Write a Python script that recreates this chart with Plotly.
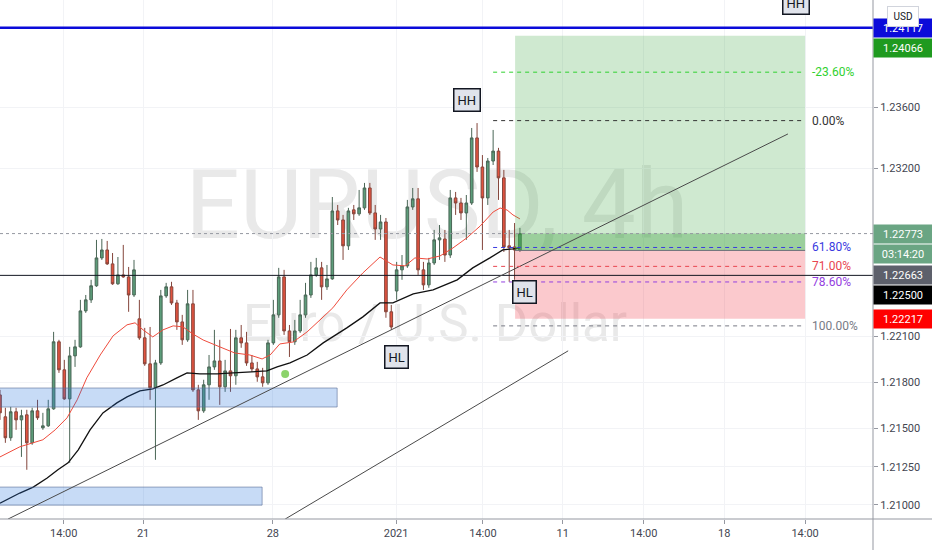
import plotly.graph_objects as go

# ---------------- data (EURUSD 4h) ----------------
open_ = [1.21719, 1.21576, 1.21439, 1.21609, 1.21556, 1.21589, 1.21406, 1.21615, 1.21504, 1.21517,
         1.21628, 1.22066, 1.21883, 1.21693, 1.21974, 1.22033, 1.22268, 1.22340, 1.22432, 1.22614,
         1.22666, 1.22575, 1.22445, 1.22503, 1.22490, 1.22372, 1.22216, 1.22092, 1.21922, 1.21766,
         1.21928, 1.22366, 1.22425, 1.22320, 1.22196, 1.22079, 1.22314, 1.21752, 1.21615, 1.21785,
         1.21902, 1.21941, 1.21772, 1.21876, 1.21844, 1.22092, 1.22059, 1.21928, 1.21889, 1.21837,
         1.21798, 1.22059, 1.22242, 1.22490, 1.22137, 1.22066, 1.22137, 1.22242, 1.22372, 1.22503,
         1.22549, 1.22425, 1.22477, 1.22921, 1.22862, 1.22693, 1.22928, 1.22902, 1.22941, 1.23071,
         1.22908, 1.22803, 1.22849, 1.22262, 1.22398, 1.22536, 1.22562, 1.22947, 1.23000, 1.22536,
         1.22438, 1.22581, 1.22732, 1.22738, 1.22633, 1.23006, 1.22973, 1.22908, 1.22973, 1.23398,
         1.23208, 1.23006, 1.23247, 1.23312, 1.23137, 1.22693, 1.22686, 1.22666]
high = [1.21752, 1.21635, 1.21641, 1.21635, 1.21622, 1.21622, 1.21635, 1.21687, 1.21602, 1.21687,
        1.22131, 1.22079, 1.21948, 1.22033, 1.22079, 1.22340, 1.22372, 1.22471, 1.22732, 1.22738,
        1.22725, 1.22646, 1.22620, 1.22699, 1.22555, 1.22601, 1.22340, 1.22157, 1.22163, 1.21948,
        1.22405, 1.22451, 1.22458, 1.22340, 1.22242, 1.22405, 1.22405, 1.21785, 1.21818, 1.21980,
        1.22144, 1.22079, 1.21948, 1.22150, 1.22144, 1.22176, 1.22131, 1.21980, 1.21935, 1.21896,
        1.22079, 1.22340, 1.22549, 1.22536, 1.22176, 1.22209, 1.22340, 1.22451, 1.22588, 1.22614,
        1.22588, 1.22568, 1.23012, 1.22960, 1.22895, 1.22941, 1.22960, 1.23058, 1.23104, 1.23104,
        1.22960, 1.22895, 1.22875, 1.22307, 1.22588, 1.22633, 1.22993, 1.23071, 1.23071, 1.22588,
        1.22614, 1.22797, 1.22829, 1.22797, 1.23058, 1.23045, 1.23006, 1.23025, 1.23463, 1.23495,
        1.23286, 1.23267, 1.23450, 1.23333, 1.23189, 1.22797, 1.22842, 1.22810]
low = [1.21556, 1.21406, 1.21419, 1.21491, 1.21314, 1.21230, 1.21393, 1.21556, 1.21491, 1.21510,
       1.21622, 1.21863, 1.21687, 1.21275, 1.21902, 1.22027, 1.22255, 1.22320, 1.22425, 1.22601,
       1.22568, 1.22438, 1.22438, 1.22484, 1.22262, 1.22359, 1.22079, 1.21909, 1.21687, 1.21295,
       1.21915, 1.22353, 1.22307, 1.22144, 1.22046, 1.22066, 1.21739, 1.21556, 1.21602, 1.21687,
       1.21883, 1.21654, 1.21739, 1.21739, 1.21785, 1.22027, 1.21909, 1.21870, 1.21805, 1.21772,
       1.21785, 1.22046, 1.22223, 1.22111, 1.21967, 1.22046, 1.22124, 1.22223, 1.22353, 1.22490,
       1.22340, 1.22405, 1.22471, 1.22829, 1.22601, 1.22666, 1.22862, 1.22889, 1.22928, 1.22895,
       1.22732, 1.22732, 1.22223, 1.22144, 1.22340, 1.22471, 1.22549, 1.22928, 1.22503, 1.22405,
       1.22419, 1.22568, 1.22601, 1.22588, 1.22614, 1.22895, 1.22862, 1.22732, 1.22960, 1.23176,
       1.22666, 1.22960, 1.23221, 1.22993, 1.22653, 1.22458, 1.22471, 1.22653]
close = [1.21602, 1.21439, 1.21609, 1.21556, 1.21583, 1.21406, 1.21615, 1.21570, 1.21517, 1.21628,
         1.22066, 1.21883, 1.21693, 1.21974, 1.22033, 1.22268, 1.22340, 1.22432, 1.22614, 1.22666,
         1.22575, 1.22445, 1.22503, 1.22490, 1.22372, 1.22536, 1.22092, 1.21922, 1.21766, 1.21928,
         1.22366, 1.22425, 1.22320, 1.22196, 1.22079, 1.22314, 1.21752, 1.21615, 1.21785, 1.21902,
         1.21941, 1.21772, 1.21876, 1.21844, 1.22092, 1.22059, 1.21928, 1.21889, 1.21837, 1.21798,
         1.22059, 1.22242, 1.22490, 1.22137, 1.22066, 1.22137, 1.22242, 1.22372, 1.22503, 1.22549,
         1.22425, 1.22477, 1.22921, 1.22862, 1.22693, 1.22921, 1.22902, 1.22941, 1.23071, 1.22908,
         1.22803, 1.22849, 1.22262, 1.22163, 1.22536, 1.22562, 1.22947, 1.23000, 1.22536, 1.22438,
         1.22581, 1.22732, 1.22745, 1.22633, 1.23006, 1.22973, 1.22908, 1.22973, 1.23398, 1.23208,
         1.23006, 1.23247, 1.23312, 1.23137, 1.22686, 1.22680, 1.22666, 1.22773]
bars = list(range(len(open_)))

ema_fast_bar = [0, 3.7, 8.0, 10.3, 12.5, 14.4, 16.2, 18.7, 21.1, 23.7, 25.2, 26.7, 28.5, 30.4, 32.3,
                34.1, 36.0, 37.9, 41.0, 43.8, 46.6, 48.9, 50.4, 52.2, 54.7, 57.3, 59.7, 62.1, 64.7,
                67.7, 70.9, 73.3, 75.6, 77.4, 79.7, 82.1, 84.5, 87.1, 89.6, 92.0, 93.3, 94.6, 95.7, 97.0]
ema_fast = [1.21314, 1.21380, 1.21426, 1.21491, 1.21569, 1.21687, 1.21831, 1.21980, 1.22105, 1.22177,
            1.22190, 1.22144, 1.22098, 1.22144, 1.22170, 1.22164, 1.22117, 1.22078, 1.22033, 1.21993,
            1.21980, 1.21954, 1.21980, 1.22052, 1.22065, 1.22131, 1.22209, 1.22288, 1.22405, 1.22516,
            1.22620, 1.22568, 1.22562, 1.22614, 1.22607, 1.22627, 1.22679, 1.22745, 1.22823, 1.22914,
            1.22940, 1.22927, 1.22895, 1.22869]
ema_slow_bar = [0, 3.7, 6.2, 8.8, 10.8, 12.7, 14.6, 16.8, 19.2, 21.8, 23.7, 26.1, 28.5, 30.4, 33.0,
                34.9, 37.3, 40.5, 43.5, 47.2, 49.8, 51.7, 54.1, 57.3, 60.3, 64.7, 67.7, 70.9, 73.3,
                77.1, 80.8, 85.3, 88.2, 91.4, 93.8, 95.7, 97.0]
ema_slow = [1.21012, 1.21078, 1.21117, 1.21176, 1.21230, 1.21275, 1.21360, 1.21491, 1.21601, 1.21667,
            1.21706, 1.21745, 1.21758, 1.21784, 1.21830, 1.21863, 1.21856, 1.21856, 1.21863, 1.21869,
            1.21876, 1.21902, 1.21928, 1.21980, 1.22059, 1.22157, 1.22229, 1.22320, 1.22320, 1.22379,
            1.22405, 1.22471, 1.22549, 1.22614, 1.22666, 1.22673, 1.22679]

price_ticks = [1.21000, 1.21250, 1.21500, 1.21800, 1.22100, 1.23200, 1.23600]
time_tick_bars = [11.9, 26.7, 50.9, 73.9, 90.1, 105.0, 120.1, 135.1, 150.2]
time_tick_labels = ["14:00", "21", "28", "2021", "14:00", "11", "14:00", "18", "14:00"]

x_range = [0, 162.87]
y_range = [1.209084, 1.24299]

# drawings
resistance_price = 1.24117
hline_price = 1.22500
last_price = 1.22773
countdown = "03:14:20"
pos_start, pos_end = 96.1, 150.2
take_profit, entry, stop_loss = 1.24066, 1.22663, 1.22217
fib_start = 92.0
fib_high, fib_low = 1.23511, 1.22170
fib_levels = [-0.236, 0.0, 0.618, 0.71, 0.786, 1.0]
fib_colors = ["#2fd12f", "#333333", "#3a3ae0", "#e8454f", "#9440e0", "#787b86"]
fib_texts = ["-23.60%", "0.00%", "61.80%", "71.00%", "78.60%", "100.00%"]
trend_lines = [((1.5, 1.20908), (147.0, 1.23424)), ((53.2, 1.20908), (106.0, 1.22007))]
zones = [((-5, 62.9), (1.21640, 1.21764)), ((-5, 48.9), (1.20999, 1.21117))]
swing_labels = [("HH", 87.1, 1.23646), ("HL", 73.9, 1.21967), ("HL", 97.9, 1.22392), ("HH", 148.5, 1.24279)]
signal_bar, signal_price = 53.2, 1.21856

W, H = 932, 550
ML, MR, MT, MB = 0, 59, 0, 31
PW, PH = W - ML - MR, H - MT - MB
FONT = "Roboto, 'Liberation Sans', sans-serif"
WM_FONT = "'Liberation Sans Narrow', Roboto, sans-serif"


def py(price):
    return (y_range[1] - price) / (y_range[1] - y_range[0]) * PH


fig = go.Figure()

fig.add_trace(go.Candlestick(
    x=bars, open=open_, high=high, low=low, close=close,
    increasing=dict(fillcolor="#5c9d7a", line=dict(color="#4a6656", width=1)),
    decreasing=dict(fillcolor="#e2533f", line=dict(color="#84453b", width=1)),
    whiskerwidth=0, hoverinfo="skip", showlegend=False))
fig.add_trace(go.Scatter(x=ema_fast_bar, y=ema_fast, mode="lines",
                         line=dict(color="#ef4b3c", width=1), hoverinfo="skip"))
fig.add_trace(go.Scatter(x=ema_slow_bar, y=ema_slow, mode="lines",
                         line=dict(color="#111111", width=1.3), hoverinfo="skip"))
fig.add_trace(go.Scatter(x=[signal_bar], y=[signal_price], mode="markers",
                         marker=dict(size=8, color="#8cd36b"), hoverinfo="skip"))

shapes = []
# watermark (below candles)
shapes.append(dict(type="rect", xref="paper", yref="paper", layer="below",
                   x0=170 / PW, x1=704 / PW, y0=1 - 250 / PH, y1=1 - 145 / PH,
                   line=dict(width=0), fillcolor="rgba(0,0,0,0)",
                   label=dict(text="EURUSD, 4h", textposition="middle center",
                              font=dict(size=96, color="#e9e9e9", family=WM_FONT))))
shapes.append(dict(type="rect", xref="paper", yref="paper", layer="below",
                   x0=240 / PW, x1=630 / PW, y0=1 - 348 / PH, y1=1 - 290 / PH,
                   line=dict(width=0), fillcolor="rgba(0,0,0,0)",
                   label=dict(text="Euro / U.S. Dollar", textposition="middle center",
                              font=dict(size=51, color="#e9e9e9", family=WM_FONT))))
# support zones
for (x0, x1), (y0, y1) in zones:
    shapes.append(dict(type="rect", xref="x", yref="y", x0=x0, x1=x1, y0=y0, y1=y1, layer="above",
                       fillcolor="rgba(30,110,220,0.25)", line=dict(color="rgba(90,110,150,0.6)", width=1)))
# long position tool
shapes.append(dict(type="rect", xref="x", yref="y", x0=pos_start, x1=pos_end, y0=entry, y1=take_profit,
                   layer="above", fillcolor="rgba(76,175,80,0.27)", line=dict(width=0)))
shapes.append(dict(type="rect", xref="x", yref="y", x0=pos_start, x1=pos_end, y0=entry, y1=last_price,
                   layer="above", fillcolor="rgba(56,160,60,0.35)", line=dict(width=0)))
shapes.append(dict(type="rect", xref="x", yref="y", x0=pos_start, x1=pos_end, y0=stop_loss, y1=entry,
                   layer="above", fillcolor="rgba(242,54,69,0.27)", line=dict(width=0)))
shapes.append(dict(type="line", xref="x", yref="y", x0=pos_start, x1=pos_end, y0=entry, y1=entry,
                   layer="above", line=dict(color="#6b6e78", width=1)))
# horizontal lines
shapes.append(dict(type="line", xref="paper", yref="y", x0=0, x1=1, y0=resistance_price, y1=resistance_price,
                   line=dict(color="#0b0bd9", width=2.5)))
shapes.append(dict(type="line", xref="paper", yref="y", x0=0, x1=1, y0=hline_price, y1=hline_price,
                   line=dict(color="#131722", width=1)))
shapes.append(dict(type="line", xref="paper", yref="y", x0=0, x1=1, y0=last_price, y1=last_price,
                   line=dict(color="#9598a1", width=1, dash="dot")))
# trend lines
for (x0, y0), (x1, y1) in trend_lines:
    shapes.append(dict(type="line", xref="x", yref="y", x0=x0, y0=y0, x1=x1, y1=y1,
                       line=dict(color="#4a4a4a", width=1)))
# fibonacci
for lvl, col in zip(fib_levels, fib_colors):
    p = fib_high - lvl * (fib_high - fib_low)
    shapes.append(dict(type="line", xref="x", yref="y", x0=fib_start, x1=pos_end, y0=p, y1=p,
                       line=dict(color=col, width=1, dash="4px,4px")))
# axis borders
shapes.append(dict(type="line", xref="paper", yref="paper", x0=0, x1=W / PW, y0=0, y1=0,
                   line=dict(color="#9598a1", width=1)))
shapes.append(dict(type="line", xref="paper", yref="paper", x0=1, x1=1, y0=-MB / PH, y1=1,
                   line=dict(color="#9598a1", width=1)))

annotations = []
for lvl, col, txt in zip(fib_levels, fib_colors, fib_texts):
    p = fib_high - lvl * (fib_high - fib_low)
    annotations.append(dict(x=151.1, y=p, xref="x", yref="y", text=txt, showarrow=False,
                            xanchor="left", yanchor="middle",
                            font=dict(size=12, color=col, family=FONT)))
for txt, bx, bp in swing_labels:
    annotations.append(dict(x=bx, y=bp, xref="x", yref="y", text=txt, showarrow=False,
                            bgcolor="#e0e3eb", bordercolor="#131722", borderwidth=1.5, borderpad=3,
                            font=dict(size=13, color="#131722", family=FONT)))

# price axis tags (pushed apart to avoid overlap)
tags = [("1.24117", resistance_price, "#0b0bd9"), ("1.24066", take_profit, "#1f9a1f"),
        ("1.22773", last_price, "#6aa583"), (countdown, None, "#6aa583"),
        ("1.22663", entry, "#5d606b"), ("1.22500", hline_price, "#000000"),
        ("1.22217", stop_loss, "#ff0000")]
prev = -100
for txt, price, col in tags:
    ypx = prev + 20.5 if price is None else max(py(price), prev + 20.5)
    prev = ypx
    annotations.append(dict(x=1, y=1 - ypx / PH, xref="paper", yref="paper", text=txt, showarrow=False,
                            xanchor="left", yanchor="middle", width=MR - 1, height=18, borderpad=0,
                            bgcolor=col, font=dict(size=11, color="white", family=FONT)))
annotations.append(dict(x=903 / PW, y=1 - 17 / PH, xref="paper", yref="paper", text="USD", showarrow=False,
                        xanchor="center", yanchor="middle", width=28, height=17, borderpad=1,
                        bgcolor="white", bordercolor="#d1d4dc", borderwidth=1,
                        font=dict(size=10, color="#131722", family=FONT)))

fig.update_layout(
    width=W, height=H, margin=dict(l=ML, r=MR, t=MT, b=MB),
    paper_bgcolor="white", plot_bgcolor="white", showlegend=False, hovermode=False,
    shapes=shapes, annotations=annotations,
    xaxis=dict(range=x_range, rangeslider=dict(visible=False), tickmode="array",
               tickvals=time_tick_bars, ticktext=time_tick_labels, ticks="outside", ticklen=4,
               tickcolor="#9598a1", showgrid=True, gridcolor="#f2f3f6", zeroline=False, showline=False,
               tickfont=dict(size=11, color="#434651", family=FONT), fixedrange=True),
    yaxis=dict(range=y_range, side="right", tickmode="array", tickvals=price_ticks,
               tickformat=".5f", ticks="outside", ticklen=4, tickcolor="#9598a1",
               showgrid=True, gridcolor="#f2f3f6", zeroline=False, showline=False,
               tickfont=dict(size=11, color="#434651", family=FONT), fixedrange=True),
)

fig.write_html("out.html", config={"displayModeBar": False},
               post_script="document.body.style.margin='0';document.body.style.overflow='hidden';")
